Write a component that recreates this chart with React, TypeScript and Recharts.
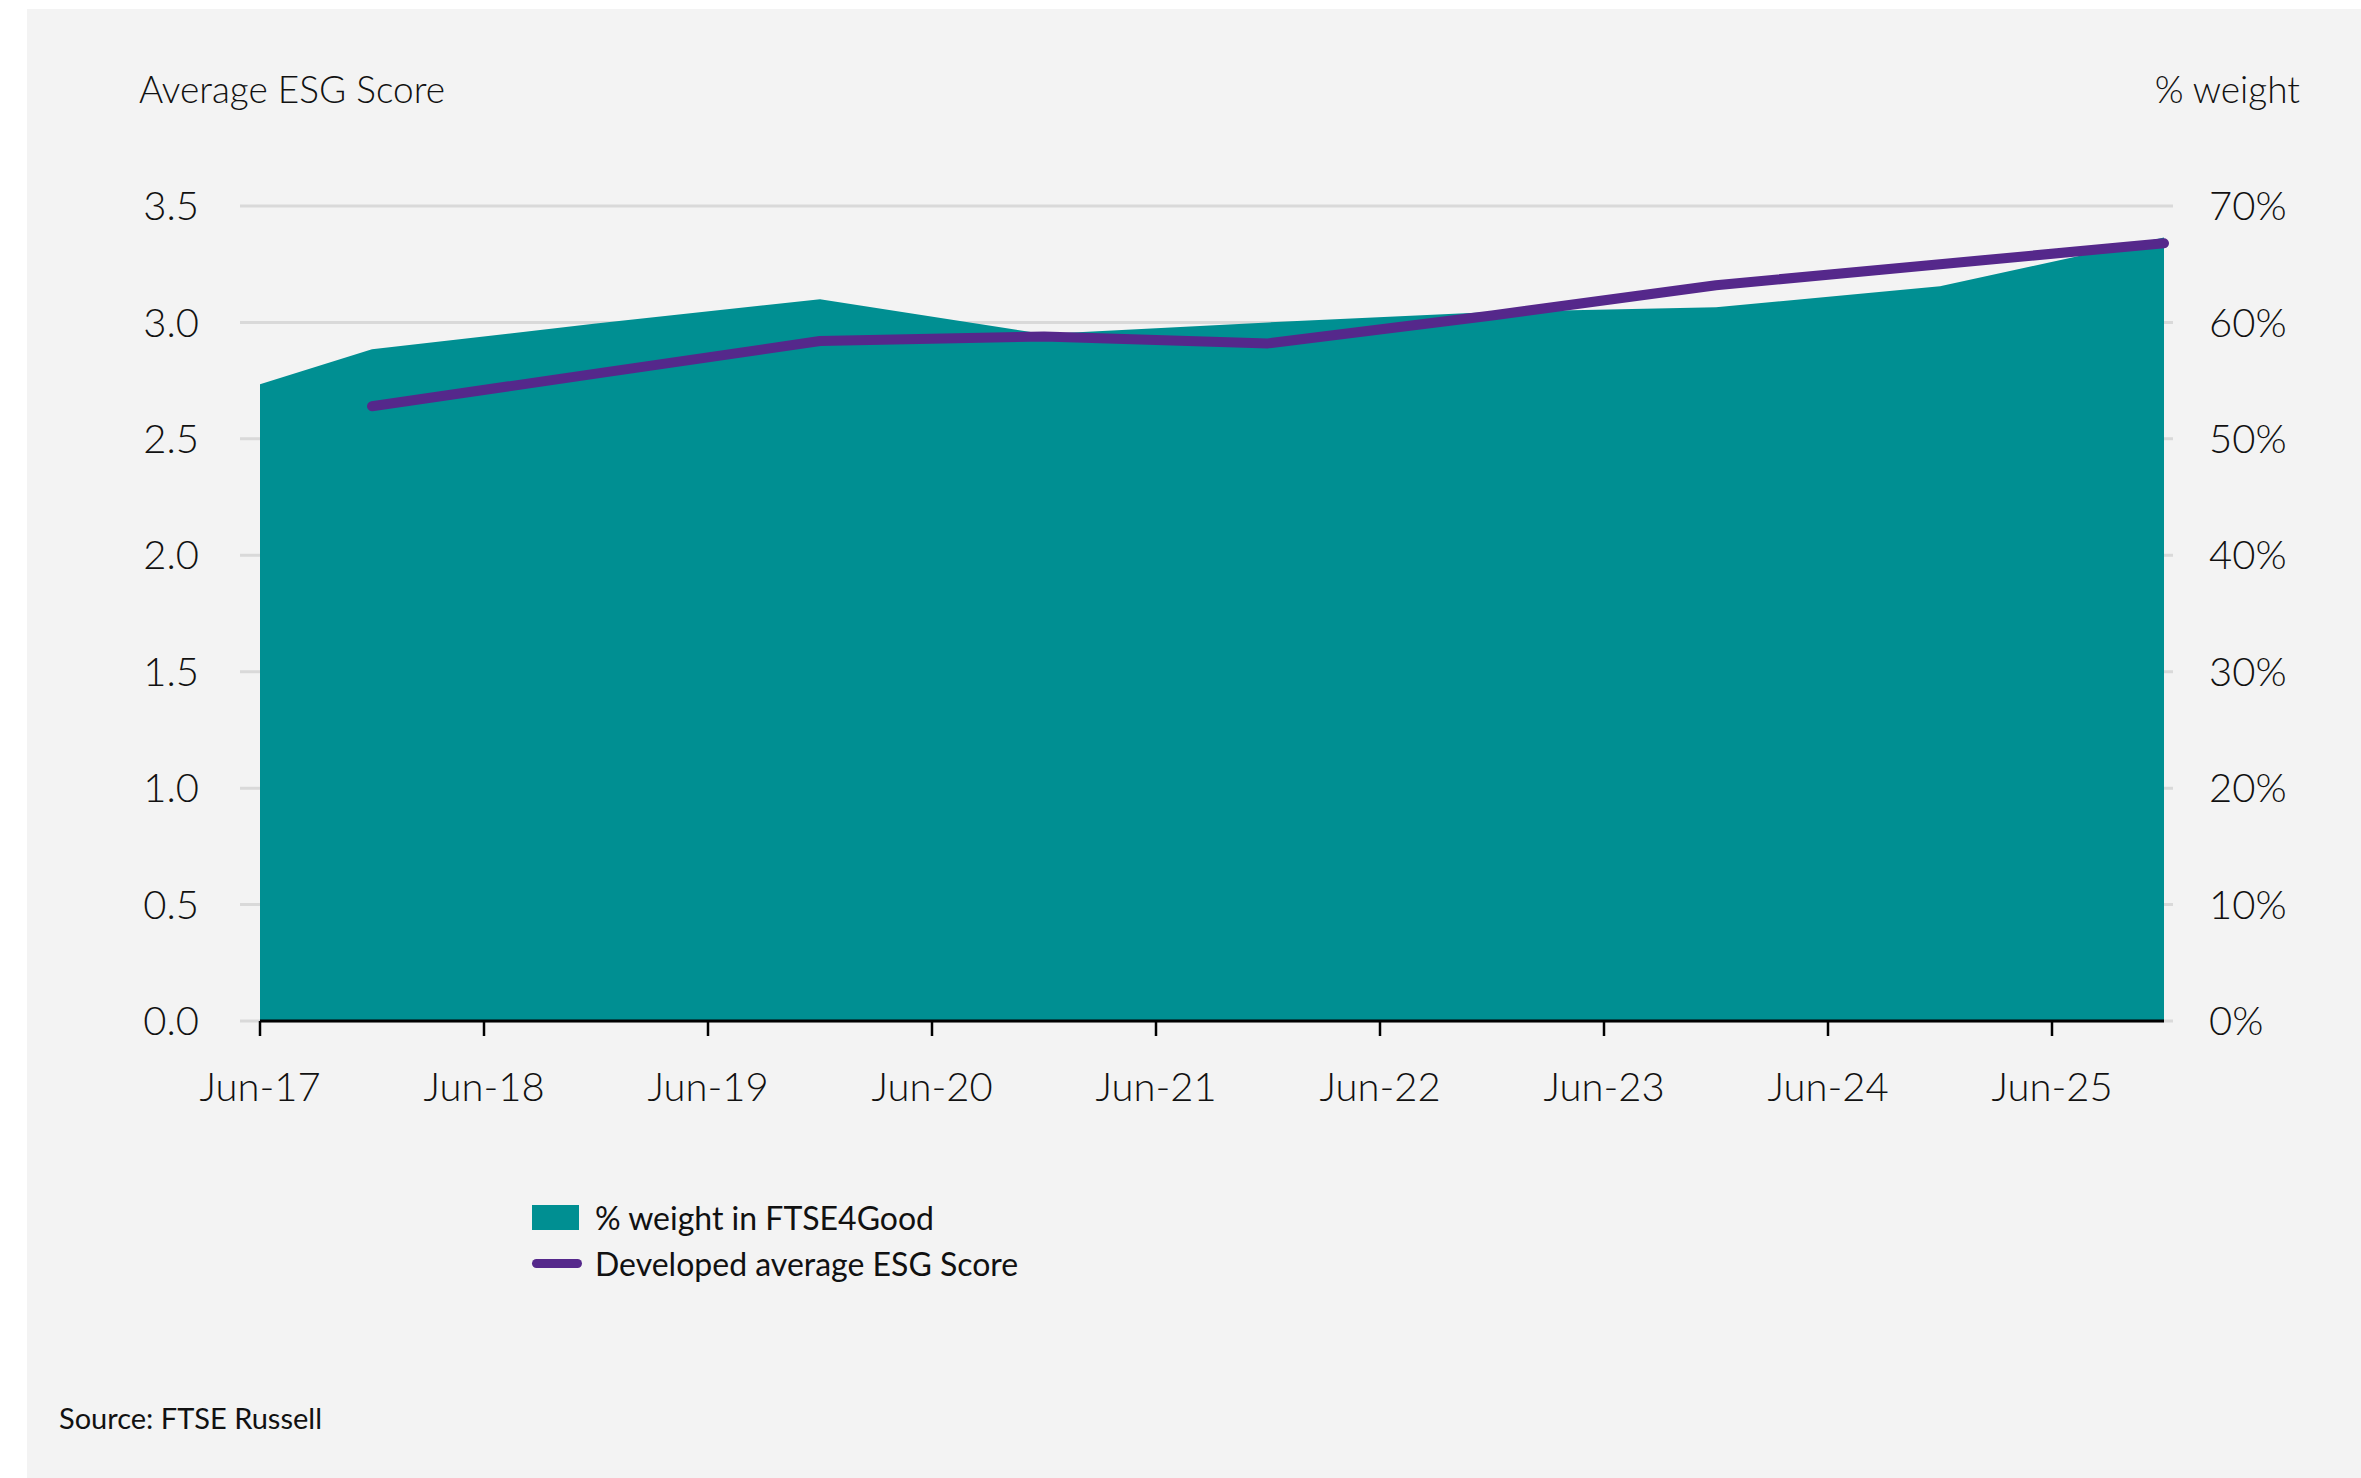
import React from "react";
import {
  ComposedChart,
  Area,
  Line,
  XAxis,
  YAxis,
  CartesianGrid,
  ReferenceLine,
} from "recharts";

// months since Jun-17
const months = [0, 6, 18, 30, 42, 54, 66, 78, 90, 102];
const weightPct = [54.7, 57.7, 59.9, 62.0, 59.0, 60.0, 60.9, 61.3, 63.1, 67.3];
const esgScore = [null, 2.64, 2.78, 2.92, 2.94, 2.91, 3.03, 3.16, 3.25, 3.34];

const xTicks = [0, 12, 24, 36, 48, 60, 72, 84, 96];
const xTickLabels = ["Jun-17", "Jun-18", "Jun-19", "Jun-20", "Jun-21", "Jun-22", "Jun-23", "Jun-24", "Jun-25"];
const leftTicks = [0, 0.5, 1, 1.5, 2, 2.5, 3, 3.5];
const rightTicks = [0, 10, 20, 30, 40, 50, 60, 70];

const data = months.map((t, i) => ({ t, weight: weightPct[i], score: esgScore[i] }));

const FONT = "Lato, 'Open Sans', sans-serif";
const TEAL = "#008f92";
const PURPLE = "#55288b";

const tickStyle = { fill: "#111", fontSize: 40, fontFamily: FONT, fontWeight: 300 };

export default function App() {
  return (
    <div style={{ position: "absolute", left: 0, top: 0, width: 2361, height: 1478, background: "#fff", overflow: "hidden" }}>
      <div style={{ position: "absolute", left: 27, top: 9, right: 0, bottom: 0, background: "#f3f3f3" }} />
      <div style={{ position: "absolute", left: 0, top: 0 }}>
        <ComposedChart
          width={2361}
          height={1478}
          data={data}
          margin={{ top: 206, right: 88, bottom: 397, left: 140 }}
        >
          <CartesianGrid yAxisId="left" vertical={false} stroke="#d9d9d9" strokeWidth={3} />
          <XAxis
            dataKey="t"
            type="number"
            domain={[0, 102]}
            ticks={xTicks}
            tickFormatter={(v) => xTickLabels[xTicks.indexOf(v)]}
            axisLine={false}
            tickLine={{ stroke: "#000", strokeWidth: 2.5 }}
            tickSize={15}
            tickMargin={37}
            height={60}
            padding={{ left: 20, right: 9 }}
            tick={tickStyle}
          />
          <YAxis
            yAxisId="left"
            domain={[0, 3.5]}
            ticks={leftTicks}
            tickFormatter={(v) => v.toFixed(1)}
            axisLine={false}
            tickLine={false}
            tickSize={0}
            tickMargin={41}
            width={100}
            tick={tickStyle}
          />
          <YAxis
            yAxisId="right"
            orientation="right"
            domain={[0, 70]}
            ticks={rightTicks}
            tickFormatter={(v) => `${v}%`}
            axisLine={false}
            tickLine={false}
            tickSize={0}
            tickMargin={36}
            width={100}
            tick={tickStyle}
          />
          <Area
            yAxisId="right"
            type="linear"
            dataKey="weight"
            fill={TEAL}
            fillOpacity={1}
            stroke="none"
            isAnimationActive={false}
          />
          <ReferenceLine
            yAxisId="left"
            segment={[{ x: 0, y: 0 }, { x: 102, y: 0 }]}
            stroke="#000"
            strokeWidth={3}
          />
          <Line
            yAxisId="left"
            type="linear"
            dataKey="score"
            stroke={PURPLE}
            strokeWidth={10}
            strokeLinecap="round"
            strokeLinejoin="round"
            dot={false}
            isAnimationActive={false}
          />
        </ComposedChart>
      </div>
      <div style={{ position: "absolute", left: 139, top: 66, fontFamily: FONT, fontWeight: 300, fontSize: 37, color: "#111" }}>
        Average ESG Score
      </div>
      <div style={{ position: "absolute", right: 61, top: 66, fontFamily: FONT, fontWeight: 300, fontSize: 37, color: "#111" }}>
        % weight
      </div>
      <div style={{ position: "absolute", left: 532, top: 1196, fontFamily: FONT, fontSize: 32, color: "#111" }}>
        <div style={{ display: "flex", alignItems: "center", height: 42 }}>
          <span style={{ display: "inline-block", width: 47, height: 25, background: TEAL, marginRight: 16 }} />
          % weight in FTSE4Good
        </div>
        <div style={{ display: "flex", alignItems: "center", height: 42, marginTop: 4 }}>
          <span style={{ display: "inline-block", width: 50, height: 9, borderRadius: 5, background: PURPLE, marginRight: 13 }} />
          Developed average ESG Score
        </div>
      </div>
      <div style={{ position: "absolute", left: 59, top: 1400, fontFamily: FONT, fontSize: 29, color: "#111" }}>
        Source: FTSE Russell
      </div>
    </div>
  );
}
